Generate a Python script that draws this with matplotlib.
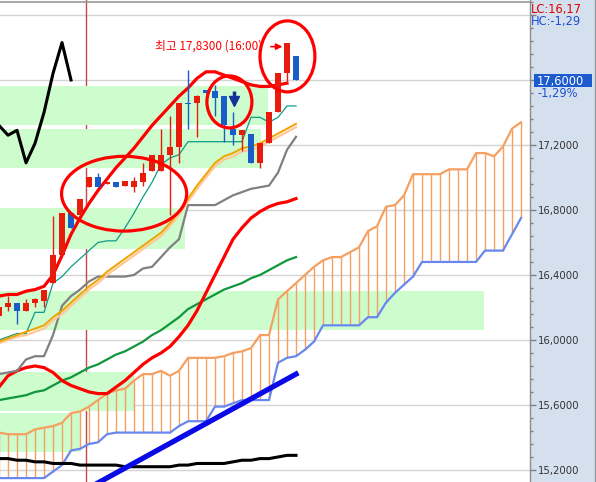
import matplotlib
matplotlib.use("Agg")
import matplotlib.pyplot as plt
from matplotlib.patches import Rectangle, Ellipse
from matplotlib.ticker import FixedLocator, MultipleLocator, FuncFormatter
import numpy as np

# ---- candles (34 bars) ----
opens = [16.15, 16.20, 16.23, 16.18, 16.23, 16.24, 16.35, 16.52, 16.78, 16.77,
         16.94, 17.00, 16.96, 16.97, 16.95, 16.94, 16.97, 17.04, 17.04, 17.14,
         17.19, 17.46, 17.46, 17.54, 17.53, 17.50, 17.30, 17.26, 17.27, 17.09,
         17.21, 17.40, 17.64, 17.75]
highs = [16.20, 16.27, 16.23, 16.25, 16.26, 16.31, 16.76, 16.78, 16.79, 16.87,
         17.00, 17.03, 16.97, 16.97, 16.98, 17.00, 17.09, 17.14, 17.30, 17.38,
         17.46, 17.66, 17.51, 17.54, 17.57, 17.50, 17.40, 17.29, 17.27, 17.21,
         17.40, 17.64, 17.83, 17.75]
lows = [16.15, 16.18, 16.10, 16.18, 16.20, 16.20, 16.35, 16.52, 16.69, 16.77,
        16.94, 16.94, 16.96, 16.94, 16.95, 16.91, 16.95, 17.04, 17.04, 16.77,
        17.09, 17.30, 17.25, 17.52, 17.38, 17.22, 17.20, 17.16, 17.09, 17.06,
        17.21, 17.40, 17.59, 17.60]
closes = [16.20, 16.23, 16.18, 16.23, 16.25, 16.31, 16.52, 16.78, 16.69, 16.87,
          17.00, 16.94, 16.97, 16.94, 16.98, 16.98, 17.03, 17.14, 17.14, 17.19,
          17.46, 17.45, 17.50, 17.52, 17.49, 17.32, 17.26, 17.29, 17.09, 17.21,
          17.40, 17.64, 17.83, 17.60]

# ---- indicator lines ----
tenkan = [16.00, 16.02, 16.04, 16.04, 16.17, 16.17, 16.35, 16.39, 16.45, 16.50,
          16.55, 16.60, 16.61, 16.61, 16.69, 16.78, 16.88, 16.97, 17.08, 17.12,
          17.14, 17.22, 17.22, 17.22, 17.22, 17.22, 17.22, 17.22, 17.37, 17.37,
          17.34, 17.37, 17.44, 17.44]
kijun = [15.79, 15.80, 15.81, 15.88, 15.90, 15.90, 16.03, 16.21, 16.27, 16.31,
         16.36, 16.39, 16.39, 16.39, 16.39, 16.40, 16.44, 16.45, 16.51, 16.57,
         16.62, 16.83, 16.83, 16.83, 16.83, 16.86, 16.89, 16.91, 16.93, 16.94,
         16.95, 17.03, 17.17, 17.25]
ma_orange = [15.99, 16.01, 16.03, 16.05, 16.07, 16.09, 16.14, 16.18, 16.23, 16.28,
             16.33, 16.37, 16.42, 16.46, 16.50, 16.54, 16.58, 16.62, 16.66, 16.72,
             16.79, 16.87, 16.95, 17.02, 17.09, 17.13, 17.15, 17.18, 17.19, 17.21,
             17.24, 17.27, 17.30, 17.33]
ma_peach = [15.98, 16.00, 16.02, 16.03, 16.05, 16.07, 16.12, 16.16, 16.21, 16.26,
            16.31, 16.35, 16.40, 16.44, 16.48, 16.52, 16.56, 16.60, 16.64, 16.70,
            16.77, 16.85, 16.93, 17.00, 17.07, 17.11, 17.13, 17.16, 17.17, 17.19,
            17.22, 17.25, 17.28, 17.31]
red_upper = [16.27, 16.28, 16.28, 16.30, 16.31, 16.33, 16.40, 16.52, 16.65, 16.75,
             16.84, 16.92, 16.99, 17.06, 17.12, 17.18, 17.25, 17.32, 17.38, 17.44,
             17.50, 17.55, 17.61, 17.65, 17.65, 17.63, 17.61, 17.59, 17.57, 17.56,
             17.56, 17.57, 17.58]
red_lower = [15.71, 15.78, 15.81, 15.83, 15.84, 15.83, 15.80, 15.75, 15.72, 15.70,
             15.68, 15.67, 15.67, 15.71, 15.75, 15.80, 15.85, 15.89, 15.92, 15.96,
             16.02, 16.09, 16.18, 16.29, 16.40, 16.51, 16.62, 16.69, 16.75, 16.79,
             16.82, 16.84, 16.85, 16.87]
ma_green = [15.63, 15.64, 15.65, 15.66, 15.68, 15.69, 15.72, 15.75, 15.77, 15.80,
            15.83, 15.85, 15.88, 15.91, 15.93, 15.96, 15.99, 16.03, 16.06, 16.10,
            16.14, 16.19, 16.22, 16.25, 16.28, 16.31, 16.33, 16.35, 16.38, 16.40,
            16.43, 16.46, 16.49, 16.51]
ma_black = [15.27, 15.27, 15.26, 15.26, 15.25, 15.25, 15.24, 15.24, 15.24, 15.23,
            15.23, 15.23, 15.23, 15.23, 15.22, 15.22, 15.22, 15.22, 15.22, 15.22,
            15.23, 15.23, 15.24, 15.24, 15.24, 15.24, 15.25, 15.26, 15.26, 15.27,
            15.27, 15.28, 15.29, 15.29]
trend_idx = [10, 33]
trend_val = [15.09, 15.79]

# ---- ichimoku cloud (59 points, 25 bars ahead) ----
span_a = [15.43, 15.42, 15.42, 15.42, 15.45, 15.46, 15.47, 15.49, 15.55, 15.56,
          15.59, 15.63, 15.67, 15.69, 15.70, 15.75, 15.79, 15.79, 15.81, 15.78,
          15.81, 15.89, 15.89, 15.89, 15.89, 15.90, 15.92, 15.93, 15.95, 16.03,
          16.03, 16.25, 16.30, 16.35, 16.40, 16.45, 16.49, 16.51, 16.51, 16.54,
          16.57, 16.67, 16.70, 16.82, 16.83, 16.89, 17.02, 17.02, 17.02, 17.02,
          17.05, 17.05, 17.05, 17.15, 17.15, 17.13, 17.19, 17.30, 17.34]
span_b = [15.15, 15.15, 15.15, 15.15, 15.15, 15.15, 15.19, 15.23, 15.32, 15.33,
          15.36, 15.37, 15.42, 15.43, 15.43, 15.43, 15.43, 15.43, 15.43, 15.43,
          15.47, 15.50, 15.50, 15.50, 15.59, 15.59, 15.61, 15.63, 15.63, 15.63,
          15.63, 15.86, 15.89, 15.90, 15.94, 15.99, 16.09, 16.09, 16.09, 16.09,
          16.09, 16.14, 16.14, 16.23, 16.29, 16.34, 16.39, 16.48, 16.48, 16.48,
          16.48, 16.48, 16.48, 16.48, 16.55, 16.55, 16.55, 16.65, 16.75]
LAG = 25

# ---- shaded zones ----
zone_top = [17.56, 17.30, 16.81, 16.30, 15.80, 15.55]
zone_bot = [17.32, 17.06, 16.56, 16.06, 15.56, 15.31]
zone_end = [29.9, 29.1, 20.7, 53.9, 15.0, 9.1]

UP = '#e81c0c'
DOWN = '#1a5cc8'

fig = plt.figure(figsize=(5.96, 4.82), dpi=100)
fig.patch.set_facecolor('#d5e0ee')
ax = fig.add_axes([0, 0, 530 / 596, 1])
ax.set_facecolor('white')
ax.set_xlim(0.11, 59.0)
ax.set_ylim(15.126, 18.092)
ax.set_axisbelow(True)

for s in ['top', 'left', 'bottom']:
    ax.spines[s].set_visible(False)
ax.spines['right'].set_color('#8c8c8c')
ax.spines['right'].set_linewidth(1)

ax.set_xticks([])
ax.yaxis.tick_right()
ax.yaxis.set_major_locator(FixedLocator(np.arange(15.2, 18.01, 0.4)))
ax.yaxis.set_minor_locator(MultipleLocator(0.08))
ax.yaxis.set_major_formatter(FuncFormatter(
    lambda v, p: f"{v:.4f}".replace('.', ',') if v < 17.3 else ''))
ax.tick_params(axis='y', which='major', length=4, width=1, color='#808080',
               labelsize=7.3, labelcolor='#333333', pad=2)
ax.tick_params(axis='y', which='minor', length=2, width=1, color='#808080')
ax.grid(axis='y', which='major', color='#d4d4d4', lw=1)
ax.axhline(18.08, color='#9a9a9a', lw=1.2)

idx = np.arange(len(closes))
cidx = np.arange(len(span_a))

# day separator
ax.axvline(9.67, color='#c84848', lw=1, zorder=0.8)

# zones
for t, b, e in zip(zone_top, zone_bot, zone_end):
    ax.add_patch(Rectangle((-1, b), e + 1, t - b, facecolor='#cdfccd',
                           edgecolor='none', zorder=1))

# cloud
ax.vlines(cidx, span_b, span_a, color='#f5a060', lw=1, zorder=2)
ax.plot(cidx, span_a, color='#f5a060', lw=1.6, zorder=2.5)
ax.plot(cidx, span_b, color='#6888f0', lw=1.6, zorder=2.5)

# lines
ax.plot(idx, ma_black, color='black', lw=2.2, zorder=3)
ax.plot(trend_idx, trend_val, color='#0a0ae6', lw=3.8, zorder=3)
ax.plot(idx, ma_green, color='#10963c', lw=1.6, zorder=3)
ax.plot(idx, red_lower, color='#ff0000', lw=2.3, zorder=3)
ax.plot(idx, kijun, color='#808080', lw=1.6, zorder=3)
ax.plot(idx, ma_peach, color='#ffc898', lw=1.6, zorder=3)
ax.plot(idx, ma_orange, color='#f0a400', lw=1.4, zorder=3.1)
ax.plot(idx, tenkan, color='#109a88', lw=0.9, zorder=3)
ax.plot(idx[:len(red_upper)], red_upper, color='#ff0000', lw=2.3, zorder=3.2)

# lagging span: closes drawn LAG bars back
ax.plot(idx[:len(closes) - LAG], closes[LAG:], color='black', lw=2.2, zorder=3)

# candles
o = np.array(opens)
c = np.array(closes)
cols = [UP if cc >= oo else DOWN for oo, cc in zip(o, c)]
ax.vlines(idx, lows, highs, color=cols, lw=1, zorder=4)
ax.bar(idx, np.maximum(np.abs(c - o), 0.01), bottom=np.minimum(o, c), width=0.76,
       color=cols, zorder=4.1)

# hand-drawn marks
for (cx, cy, w, h) in [(13.9, 16.90, 13.9, 0.46), (25.6, 17.465, 5.0, 0.32),
                       (32.05, 17.745, 6.1, 0.437)]:
    ax.add_patch(Ellipse((cx, cy), w, h, fill=False, edgecolor='#ff0000',
                         lw=2.3, zorder=6))

ax.text(29.3, 17.81, '최고 17,8300 (16:00)', color='#ff0000', fontsize=8.5,
        ha='right', va='center', family=['Noto Sans CJK KR', 'DejaVu Sans'], zorder=7)
ax.annotate('', xy=(31.8, 17.805), xytext=(29.9, 17.805),
            arrowprops=dict(arrowstyle='-|>', color='#ff0000', lw=1.2,
                            mutation_scale=9), zorder=7)
ax.vlines(26.06, 17.48, 17.53, color='#12329a', lw=2.5, zorder=7)
ax.plot([26.06], [17.47], marker='v', ms=6.5, color='#12329a', zorder=7)

# right panel texts
H = 482.0
W = 596.0
fig.add_artist(plt.Line2D([595 / W, 595 / W], [0, 1], color='#9a9a9a', lw=1))
fig.text(531 / W, 1 - 10 / H, 'LC:16,17', color='#e00000', fontsize=8.3, va='center')
fig.text(531 / W, 1 - 22 / H, 'HC:-1,29', color='#1c50d0', fontsize=8.3, va='center')
fig.add_artist(Rectangle((534 / W, 1 - 87 / H), 58 / W, 13 / H, facecolor='#1c5ad0',
                         edgecolor='none', transform=fig.transFigure))
fig.text(537 / W, 1 - 81 / H, '17,6000', color='white', fontsize=8.3, va='center')
fig.text(537 / W, 1 - 93 / H, '-1,29%', color='#1c50d0', fontsize=8.3, va='center')

fig.savefig('out.png', dpi=100, facecolor=fig.get_facecolor())
